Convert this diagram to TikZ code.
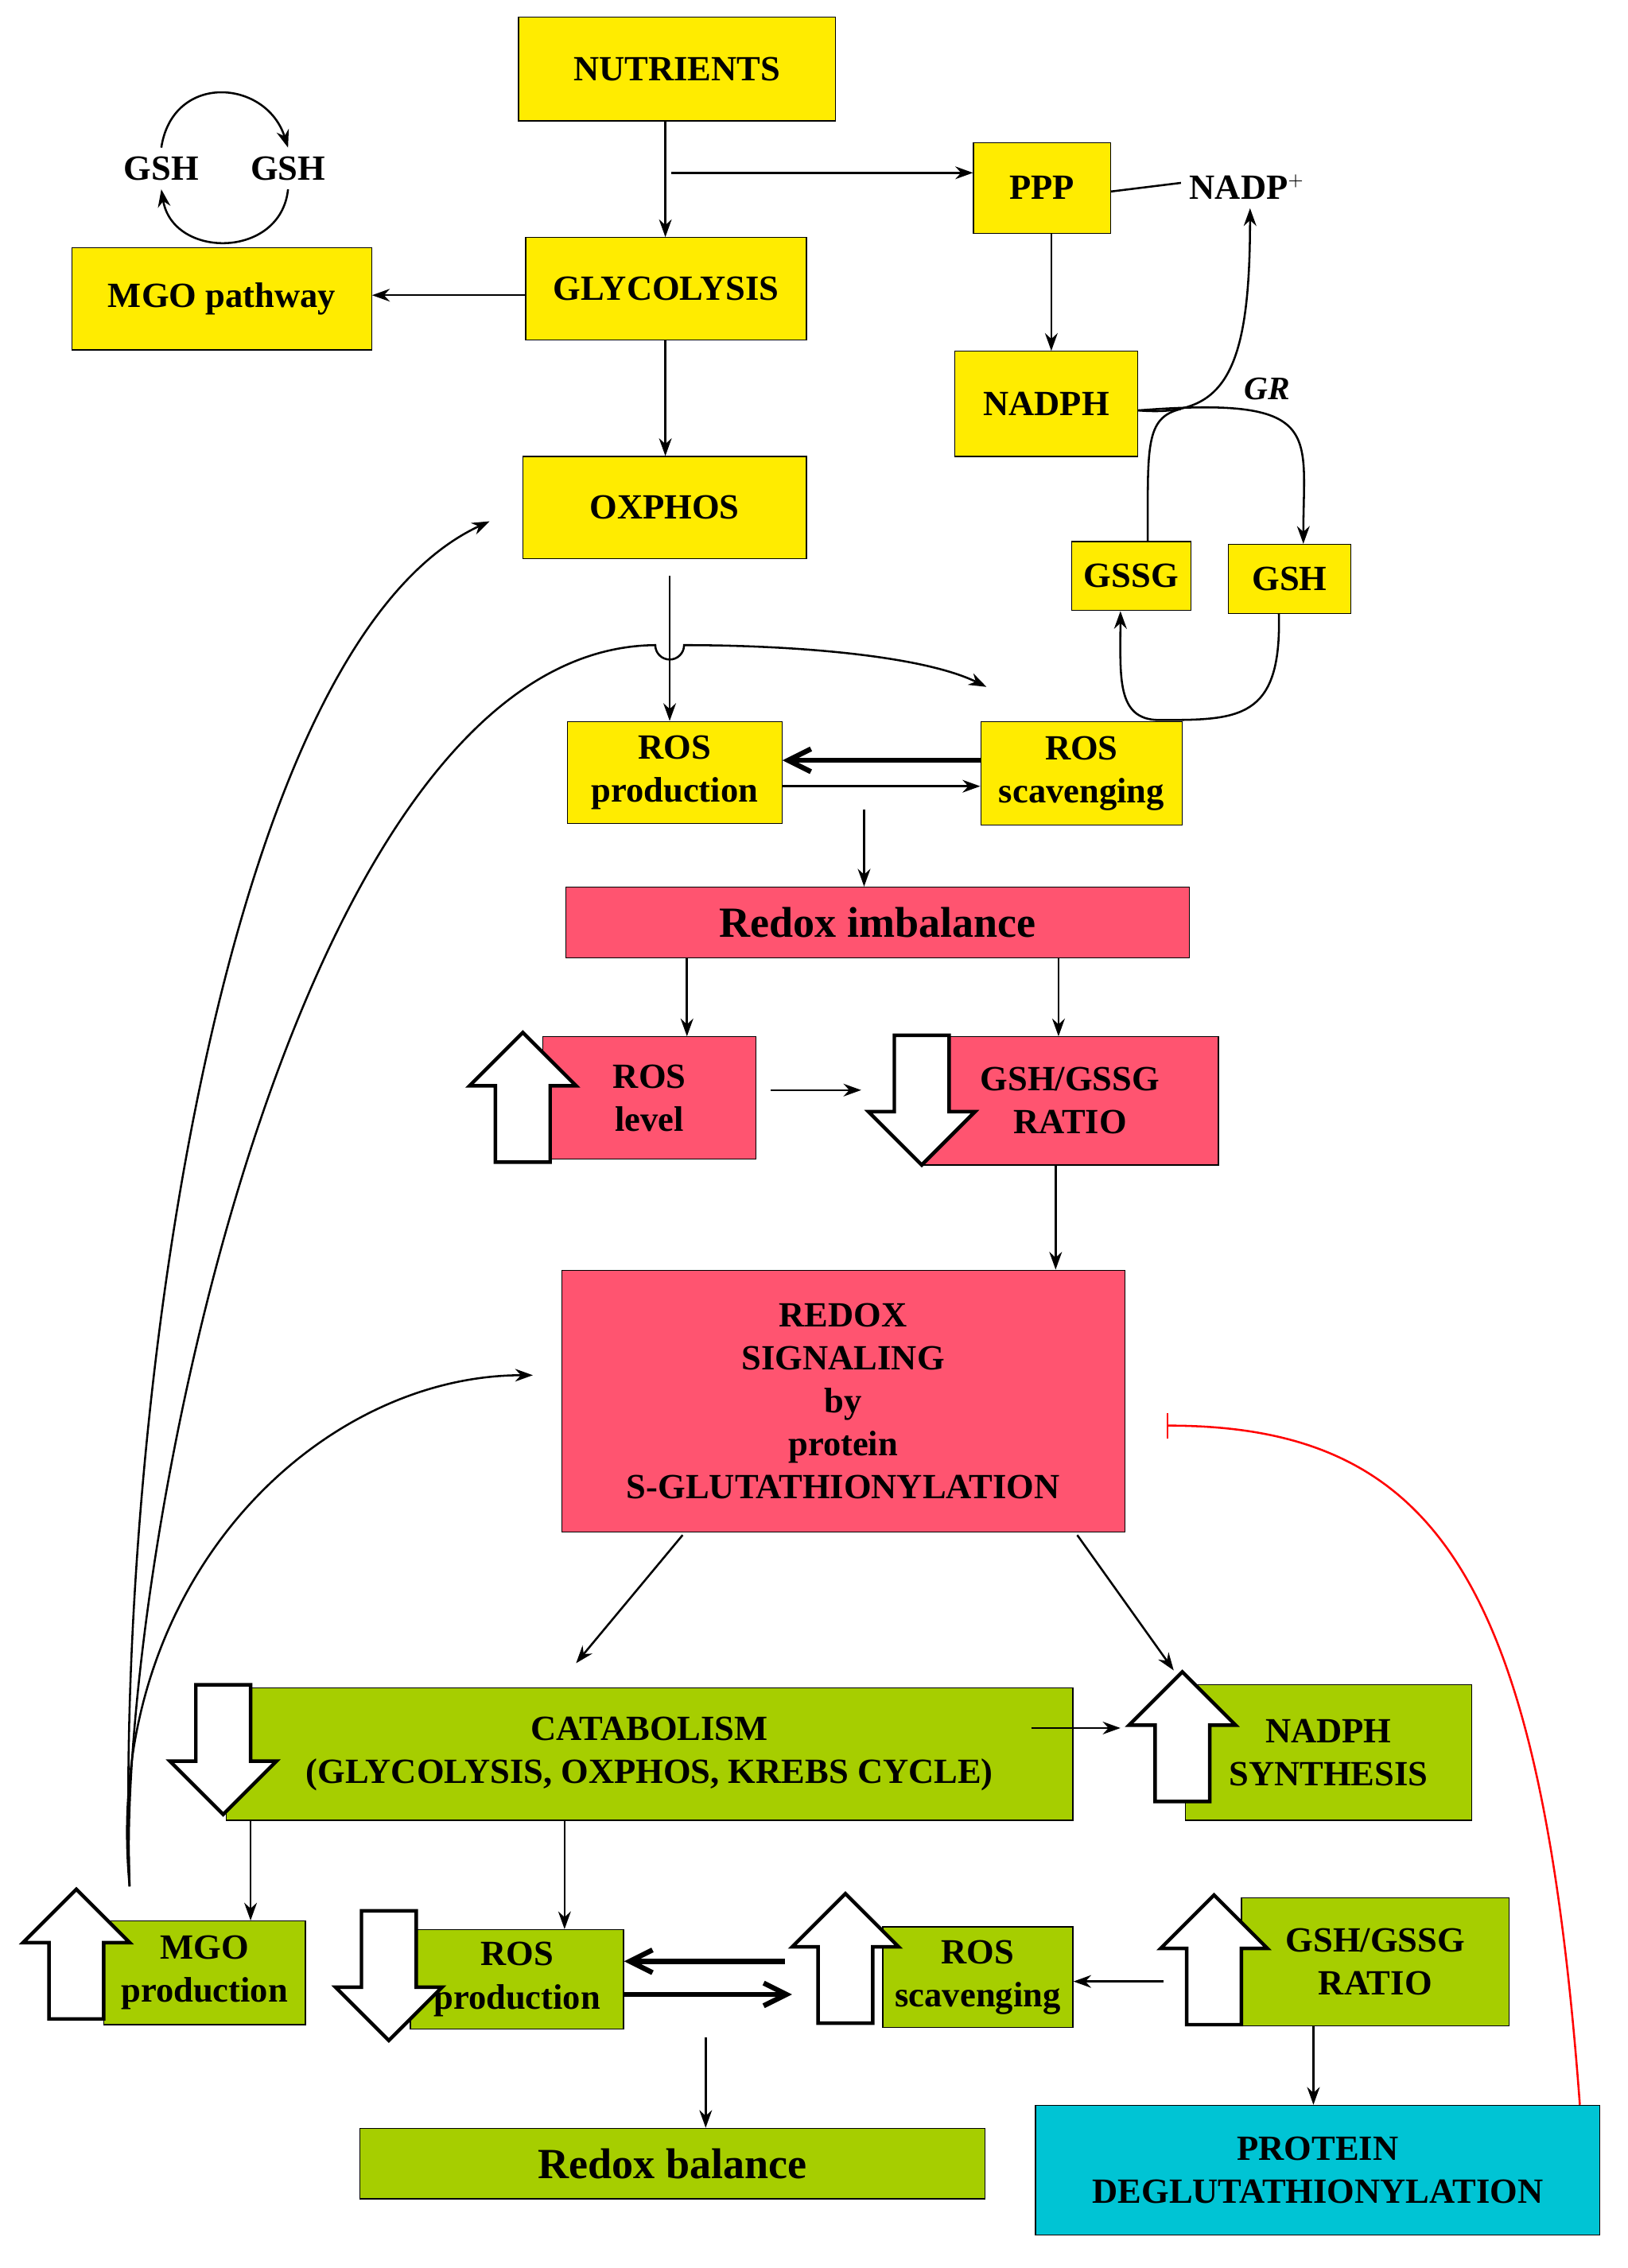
\documentclass[tikz,border=0pt]{standalone}
\usepackage{fontspec}
\setmainfont{Liberation Serif}
\usetikzlibrary{arrows.meta}

\definecolor{ylw}{RGB}{255,236,0}
\definecolor{rdx}{RGB}{255,84,112}
\definecolor{grn}{RGB}{166,206,0}
\definecolor{cyn}{RGB}{0,196,212}

\tikzset{
  bx/.style={draw, inner sep=0pt, align=center, font=\bfseries\fontsize{14}{17}\selectfont},
  yb/.style={bx, fill=ylw},
  rb/.style={bx, fill=rdx},
  gb/.style={bx, fill=grn},
  cb/.style={bx, fill=cyn},
  lbl/.style={font=\bfseries\fontsize{14}{17}\selectfont},
  fat/.style={draw, line width=1.4pt, fill=white, line join=miter},
  up/.pic={\path[fat] (-19,45) -- (-19,-8) -- (-37,-8) -- (0,-45) -- (37,-8) -- (19,-8) -- (19,45) -- cycle;},
  dn/.pic={\path[fat] (-19,-45) -- (-19,8) -- (-37,8) -- (0,45) -- (37,8) -- (19,8) -- (19,-45) -- cycle;},
  ar/.style={-{Stealth[length=7pt,width=5pt]}, thick},
  heavy/.style={-{Straight Barb[length=9pt,width=9pt]}, line width=2pt},
}
% box from corners (pixel units)
\newcommand{\bxat}[7]{\node[#6, minimum width={(#4-#2)*0.02cm}, minimum height={(#5-#3)*0.02cm}]
  (#1) at ({(#2+#4)/2},{(#3+#5)/2}) {#7};}

\begin{document}
\begin{tikzpicture}[x=0.02cm, y=-0.02cm]
\useasboundingbox[fill=white] (0,0) rectangle (1130,1575);

%% upper (yellow) part
\bxat{nutr}{360}{12}{580}{84}{yb}{NUTRIENTS}
\bxat{mgo}{50}{172}{258}{243}{yb}{MGO pathway}
\bxat{glyc}{365}{165}{560}{236}{yb}{GLYCOLYSIS}
\bxat{ppp}{676}{99}{771}{162}{yb}{PPP}
\bxat{nadph}{663}{244}{790}{317}{yb}{NADPH}
\bxat{oxphos}{363}{317}{560}{388}{yb}{OXPHOS}
\bxat{gssg}{744}{376}{827}{424}{yb}{GSSG}
\bxat{gsh}{853}{378}{938}{426}{yb}{GSH}
\bxat{rosp}{394}{501}{543}{572}{yb}{ROS\\production}
\bxat{ross}{681}{501}{821}{573}{yb}{ROS\\scavenging}

\node[lbl] (gshA) at (112,117) {GSH};
\node[lbl] (gshB) at (200,117) {GSH};
\node[lbl, font=\fontsize{14}{17}\selectfont] (nadp) at (866,130) {\textbf{NADP}$^{\scriptscriptstyle +}$};
\node[lbl, font=\bfseries\itshape\fontsize{13}{15}\selectfont] (gr) at (880,270) {GR};

\draw[ar] (gshA.north) .. controls (120,50) and (185,55) .. (gshB.north);
\draw[ar] (gshB.south) .. controls (195,180) and (120,180) .. (gshA.south);

\draw[ar] (nutr.south -| 462,0) -- (glyc.north -| 462,0);
\coordinate (br) at (466,120);
\draw[ar] (br) -- (ppp.west |- br);
\draw[ar] (glyc.west |- 0,205) -- (mgo.east |- 0,205);
\draw[ar] (glyc.south -| 462,0) -- (oxphos.north -| 462,0);
\draw[ar] (ppp.south -| 730,0) -- (nadph.north -| 730,0);
\draw[thick] (ppp.east |- 0,133) -- (820,127);
\draw[ar] (nadph.east |- 0,285) .. controls (850,290) and (868,260) .. (nadp.south -| 868,0);
\draw[ar] (nadph.east |- 0,285) .. controls (920,275) and (905,300) .. (gsh.north -| 905,0);
\draw[thick] (gssg.north -| 797,0) .. controls (797,310) and (795,290) .. (820,284);
\draw[ar] (gsh.south -| 888,0) .. controls (890,500) and (860,500) .. (805,500)
  .. controls (775,500) and (778,470) .. (gssg.south -| 778,0);

\draw[ar] (465,400) -- (rosp.north -| 465,0);
\draw[heavy] (ross.west |- 0,528) -- (rosp.east |- 0,528);
\draw[ar] (rosp.east |- 0,546) -- (ross.west |- 0,546);

%% red part
\bxat{imb}{393}{616}{826}{665}{rb, font=\bfseries\fontsize{17}{20}\selectfont}{Redox imbalance}
\bxat{roslvl}{377}{720}{525}{805}{rb}{ROS\\level}
\bxat{ratio}{640}{720}{846}{809}{rb}{GSH/GSSG\\RATIO}
\bxat{sig}{390}{882}{781}{1064}{rb}{REDOX\\SIGNALING\\by\\protein\\S-GLUTATHIONYLATION}
\pic at (363,762) {up};
\pic at (640,764) {dn};

\draw[ar] (600,562) -- (imb.north -| 600,0);
\draw[ar] (imb.south -| 477,0) -- (roslvl.north -| 477,0);
\draw[ar] (imb.south -| 735,0) -- (ratio.north -| 735,0);
\draw[ar] (535,757) -- (598,757);
\draw[ar] (ratio.south -| 733,0) -- (sig.north -| 733,0);

%% green part
\bxat{cat}{157}{1172}{745}{1264}{gb}{CATABOLISM\\(GLYCOLYSIS, OXPHOS, KREBS CYCLE)}
\bxat{nsyn}{823}{1170}{1022}{1264}{gb}{NADPH\\SYNTHESIS}
\bxat{mgop}{72}{1334}{212}{1406}{gb}{MGO\\production}
\bxat{rosp2}{285}{1340}{433}{1409}{gb}{ROS\\production}
\bxat{ross2}{613}{1338}{745}{1408}{gb}{ROS\\scavenging}
\bxat{ratio2}{862}{1318}{1048}{1407}{gb}{GSH/GSSG\\RATIO}
\bxat{bal}{250}{1478}{684}{1527}{gb, font=\bfseries\fontsize{17}{20}\selectfont}{Redox balance}
\bxat{deglut}{719}{1462}{1111}{1552}{cb}{PROTEIN\\DEGLUTATHIONYLATION}

\pic at (155,1215) {dn};
\pic at (821,1206) {up};
\pic at (53,1357) {up};
\pic at (270,1372) {dn};
\pic at (587,1360) {up};
\pic at (843,1361) {up};

\draw[ar] (474,1066) -- (400,1155);
\draw[ar] (748,1066) -- (815,1160);
\draw[ar] (716,1200) -- (778,1200);
\draw[ar] (cat.south -| 174,0) -- (mgop.north -| 174,0);
\draw[ar] (cat.south -| 392,0) -- (rosp2.north -| 392,0);
\draw[heavy] (545,1362) -- (rosp2.east |- 0,1362);
\draw[heavy] (rosp2.east |- 0,1385) -- (550,1385);
\draw[ar] (808,1376) -- (ross2.east |- 0,1376);
\draw[ar] (490,1415) -- (bal.north -| 490,0);
\draw[ar] (ratio2.south -| 912,0) -- (deglut.north -| 912,0);
\draw[-{Bar[width=10pt]}, red, thick] (deglut.north -| 1097,0) .. controls (1070,1100) and (1000,990) .. (810,990);

%% feedback from MGO production
\coordinate (fb) at (90,1310);
\draw[ar] (fb) .. controls (80,1000) and (150,450) .. (340,362);
\draw[ar] (fb) .. controls (70,1100) and (220,955) .. (370,955);
\draw[ar] (fb) .. controls (80,1100) and (200,450) .. (455,448)
  arc[start angle=180, end angle=0, radius=10] .. controls (550,448) and (640,455) .. (685,477);
\end{tikzpicture}
\end{document}
